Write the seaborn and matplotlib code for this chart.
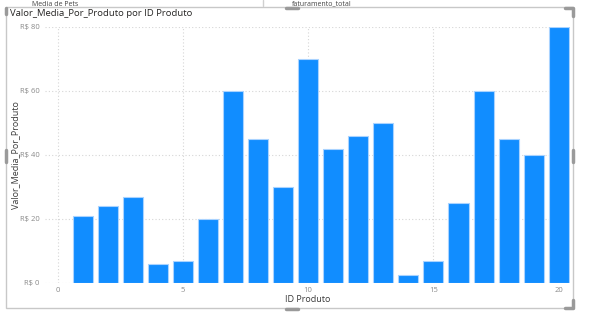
import matplotlib
matplotlib.use("Agg")
import matplotlib.pyplot as plt
import seaborn as sns
import pandas as pd
from matplotlib.patches import Rectangle
from matplotlib.lines import Line2D

# ---- data ----
id_produto = list(range(1, 21))
valor_media = [21, 24, 27, 6, 7, 20, 60, 45, 30, 70,
               42, 46, 50, 2.5, 7, 25, 60, 45, 40, 80]
x_ticks = [0, 5, 10, 15, 20]
y_ticks = [0, 20, 40, 60, 80]
y_tick_labels = ["R$ 0", "R$ 20", "R$ 40", "R$ 60", "R$ 80"]
title = "Valor_Media_Por_Produto por ID Produto"
x_label = "ID Produto"
y_label = "Valor_Media_Por_Produto"

df = pd.DataFrame({"ID Produto": id_produto, "Valor": valor_media})

sns.set_theme(style="white")
plt.rcParams["font.family"] = ["Open Sans", "DejaVu Sans"]

W, H = 592, 335
fig = plt.figure(figsize=(W / 100, H / 100), dpi=100)
fig.patch.set_facecolor("white")

def fx(px):
    return px / W

def fy(py):
    return 1 - py / H

ax = fig.add_axes([fx(45), fy(283), fx(570) - fx(45), fy(27) - fy(283)])
sns.barplot(data=df, x="ID Produto", y="Valor", native_scale=True,
            color="#118DFF", saturation=1, width=0.8, ax=ax,
            edgecolor="#a9d3ff", linewidth=0.8, errorbar=None)

ax.set_xlim(-0.5, 20.45)
ax.set_ylim(0, 80)
ax.set_xticks(x_ticks)
ax.set_xticklabels([str(t) for t in x_ticks])
ax.set_yticks(y_ticks)
ax.set_yticklabels(y_tick_labels)
ax.tick_params(axis="both", length=0, labelsize=5.5, labelcolor="#8a8a8a")
ax.tick_params(axis="x", pad=3)
ax.tick_params(axis="y", pad=4)
for sp in ax.spines.values():
    sp.set_visible(False)
ax.grid(True, color="#d6d6d6", linestyle=(0, (1, 2)), linewidth=0.8)
ax.set_axisbelow(True)
ax.set_xlabel(x_label, fontsize=6.5, color="#3a3a3a")
ax.set_ylabel(y_label, fontsize=6.5, color="#3a3a3a")
ax.yaxis.set_label_coords((20 - 45) / 525, 0.5)
ax.xaxis.set_label_coords(0.5, -(295 - 283) / 256)

# title
fig.text(fx(10), fy(13), title, fontsize=6.8, color="#252423",
         ha="left", va="center")

# Power BI visual frame
frame_col = "#c8c8c8"
fig.add_artist(Rectangle((fx(6), fy(308)), fx(573) - fx(6), fy(7) - fy(308),
                         transform=fig.transFigure, fill=False,
                         edgecolor=frame_col, linewidth=1))
# corner / handle markers
hc = "#9a9a9a"
fig.add_artist(Line2D([fx(565), fx(573), fx(573)], [fy(8), fy(8), fy(16)],
                      transform=fig.transFigure, color=hc, linewidth=2.5))
fig.add_artist(Line2D([fx(565), fx(573), fx(573)], [fy(308), fy(308), fy(300)],
                      transform=fig.transFigure, color=hc, linewidth=2.5))
fig.add_artist(Line2D([fx(6), fx(6)], [fy(8), fy(14)],
                      transform=fig.transFigure, color=hc, linewidth=2.5))
fig.add_artist(Line2D([fx(286), fx(298)], [fy(7.5), fy(7.5)],
                      transform=fig.transFigure, color=hc, linewidth=2.5))
fig.add_artist(Line2D([fx(286), fx(298)], [fy(308.5), fy(308.5)],
                      transform=fig.transFigure, color=hc, linewidth=2.5))
fig.add_artist(Line2D([fx(6), fx(6)], [fy(150), fy(162)],
                      transform=fig.transFigure, color=hc, linewidth=2.5))
fig.add_artist(Line2D([fx(573), fx(573)], [fy(150), fy(162)],
                      transform=fig.transFigure, color=hc, linewidth=2.5))

# top strip from neighbouring visuals
fig.text(fx(32), fy(0.5), "Media de Pets", fontsize=5, color="#444444",
         ha="left", va="top")
fig.text(fx(292), fy(0.5), "faturamento_total", fontsize=5, color="#444444",
         ha="left", va="top")
fig.add_artist(Line2D([fx(263), fx(263)], [fy(0), fy(6)],
                      transform=fig.transFigure, color="#d0d0d0", linewidth=1))

fig.savefig("out.png", dpi=100)
